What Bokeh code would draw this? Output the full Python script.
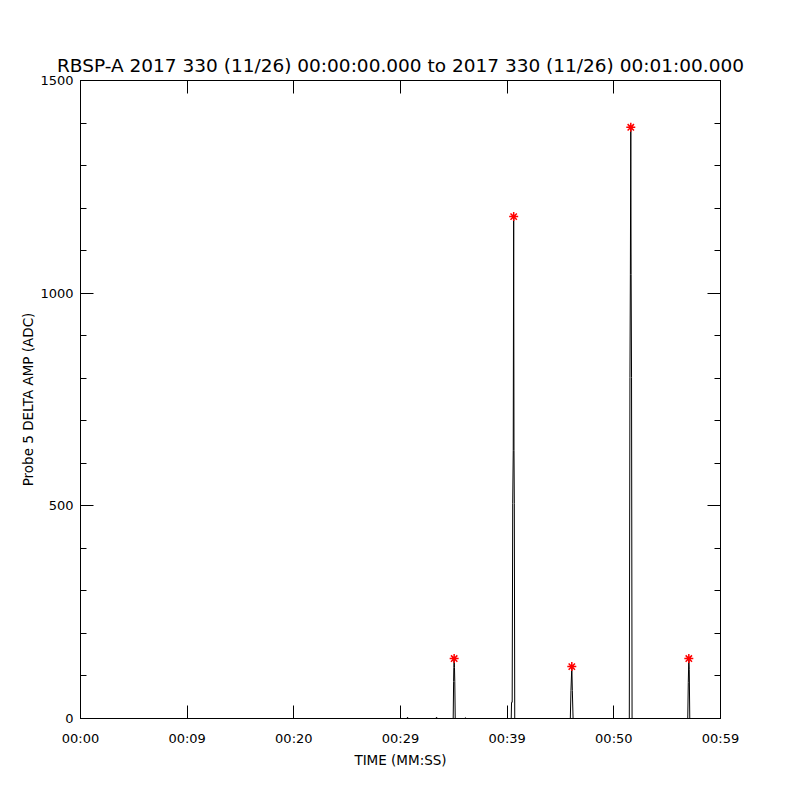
from bokeh.plotting import figure
from bokeh.models import Range1d, LinearAxis, FixedTicker, CustomJSTickFormatter
from bokeh.embed import file_html
from bokeh.resources import INLINE

# ---- data (seconds since 00:00:00, ADC amplitude) ----
time_s = [0.0, 30.60, 30.66, 30.72, 33.30, 33.38, 33.46, 36.05, 36.09, 36.13,
          34.94, 34.98, 35.00, 35.03, 35.06, 35.09, 35.13,
          40.38, 40.41, 40.47, 40.52, 40.57, 40.61, 40.64, 40.67, 40.71,
          45.92, 45.98, 46.06, 46.11, 46.18,
          51.45, 51.51, 51.55, 51.59, 51.62, 51.66, 51.71,
          56.93, 56.98, 57.03, 57.07, 57.12, 60.0]
amp = [0, 0, 3, 0, 0, 3, 0, 0, 2, 0,
       0, 87, 120, 141, 120, 87, 0,
       0, 38, 38, 505, 630, 1180, 630, 505, 0,
       0, 66, 122, 66, 0,
       0, 802, 1044, 1390, 1044, 802, 0,
       0, 85, 141, 115, 0, 0]
# sort by time so the trace is monotonic
pairs = sorted(zip(time_s, amp), key=lambda q: q[0])
time_s = [q[0] for q in pairs]
amp = [q[1] for q in pairs]

peak_t = [35.03, 40.61, 46.06, 51.59, 57.03]
peak_v = [141, 1180, 122, 1390, 141]

x_ticks = [0, 10, 20, 30, 40, 50, 60]
x_labels = ["00:00", "00:09", "00:20", "00:29", "00:39", "00:50", "00:59"]
y_ticks = [0, 500, 1000, 1500]
y_minor = list(range(0, 1501, 100))

FONT = "DejaVu Sans"

p = figure(width=784, height=784, output_backend="svg", toolbar_location=None,
           x_range=Range1d(0, 60), y_range=Range1d(0, 1500),
           min_border_left=80, min_border_right=64, min_border_top=80, min_border_bottom=66,
           x_axis_location=None, y_axis_location=None)
p.title.text = "RBSP-A 2017 330 (11/26) 00:00:00.000 to 2017 330 (11/26) 00:01:00.000"
p.title.align = "center"
p.title.text_font = FONT
p.title.text_font_style = "normal"
p.title.text_font_size = "18.5px"
p.title.text_color = "black"

p.grid.visible = False
p.outline_line_color = "black"
p.outline_line_width = 1
p.background_fill_color = "white"
p.border_fill_color = "white"

def style_axis(ax, labels=True):
    ax.axis_line_color = "black"
    ax.major_tick_line_color = "black"
    ax.minor_tick_line_color = "black"
    ax.major_tick_in = 13
    ax.major_tick_out = 0
    ax.minor_tick_in = 6
    ax.minor_tick_out = 0
    ax.major_label_text_font = FONT
    ax.major_label_text_font_size = "13px"
    ax.major_label_text_color = "black"
    ax.axis_label_text_font = FONT
    ax.axis_label_text_font_style = "normal"
    ax.axis_label_text_font_size = "13.5px"
    ax.axis_label_text_color = "black"
    if not labels:
        ax.formatter = CustomJSTickFormatter(code="return ''")
        ax.major_label_standoff = 0

xtick = FixedTicker(ticks=x_ticks, minor_ticks=[])
ytick = FixedTicker(ticks=y_ticks, minor_ticks=y_minor)

xb = LinearAxis(ticker=xtick, axis_label="TIME (MM:SS)")
style_axis(xb)
xb.major_label_overrides = {t: l for t, l in zip(x_ticks, x_labels)}
xb.major_label_standoff = 12
xb.axis_label_standoff = 3
p.add_layout(xb, "below")

xt = LinearAxis(ticker=FixedTicker(ticks=x_ticks, minor_ticks=[]))
style_axis(xt, labels=False)
p.add_layout(xt, "above")

yl = LinearAxis(ticker=ytick, axis_label="Probe 5 DELTA AMP (ADC)")
style_axis(yl)
yl.major_label_standoff = 7
yl.axis_label_standoff = 1
yl.major_label_orientation = "horizontal"
p.add_layout(yl, "left")

yr = LinearAxis(ticker=FixedTicker(ticks=y_ticks, minor_ticks=y_minor))
style_axis(yr, labels=False)
p.add_layout(yr, "right")

p.line(time_s, amp, line_color="black", line_width=1)
p.scatter(peak_t, peak_v, marker="asterisk", size=9, line_color="red", line_width=1.5)

open("out.html", "w").write(file_html(p, INLINE))
